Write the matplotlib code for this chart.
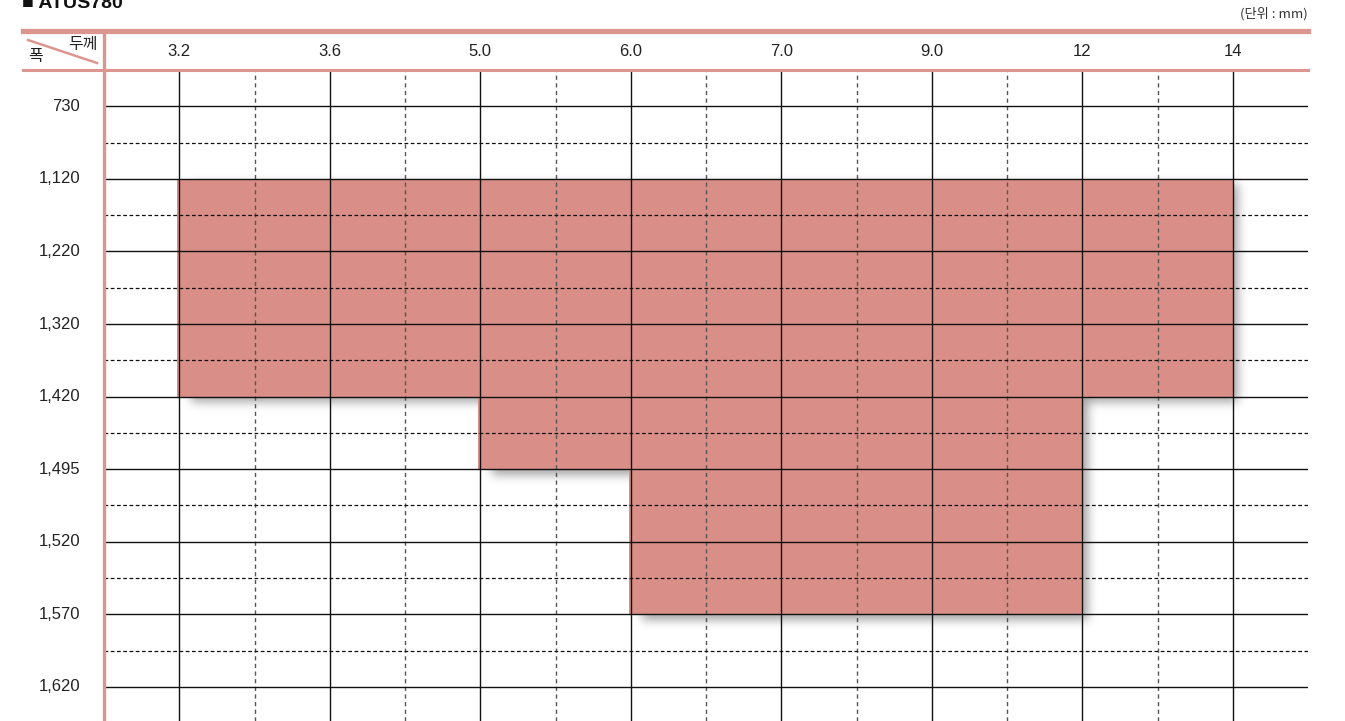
import numpy as np
import matplotlib.pyplot as plt
from matplotlib.transforms import blended_transform_factory

plt.rcParams['font.family'] = ['Noto Sans CJK KR', 'DejaVu Sans']

# 두께 (thickness) columns and 폭 (width) rows
thickness = ['3.2', '3.6', '5.0', '6.0', '7.0', '9.0', '12', '14']
width = ['730', '1,120', '1,220', '1,320', '1,420', '1,495', '1,520', '1,570', '1,620']

# available ranges: (width from, width to, thickness from, thickness to)
ranges = [
    ('1,120', '1,420', '3.2', '14'),
    ('1,420', '1,495', '5.0', '12'),
    ('1,495', '1,570', '6.0', '12'),
]

fill_color = '#d98f87'
pink = '#dc968f'
num_font = ['Liberation Sans Narrow', 'Liberation Sans', 'DejaVu Sans']

fig = plt.figure(figsize=(13.45, 7.21), dpi=100)
W, H = 1345, 721


def fx(px):
    return px / W


def fy(py):
    return 1 - py / H


# grid area
ax = fig.add_axes([fx(104), 0, fx(1308) - fx(104), fy(70)])
xlim = (-0.5, len(thickness) - 0.5)
ylim = (len(width) - 0.53, -0.5)
ax.axis('off')

# blurred drop shadow under the filled ranges
aw, ah = 1204, 651
sx = aw / (xlim[1] - xlim[0])
sy = ah / (ylim[0] - ylim[1])
mask = np.zeros((ah, aw))
off_x, off_y = 6, 6
for w0, w1, t0, t1 in ranges:
    y0, y1 = width.index(w0), width.index(w1)
    x0, x1 = thickness.index(t0), thickness.index(t1)
    c0 = int((x0 - xlim[0]) * sx) + off_x + 6
    c1 = int((x1 - xlim[0]) * sx) + off_x
    r0 = int((y0 - ylim[1]) * sy) + off_y
    r1 = int((y1 - ylim[1]) * sy) + off_y
    mask[r0:r1, c0:c1] = 1
sigma = 5.0
k = np.arange(-15, 16)
kern = np.exp(-k ** 2 / (2 * sigma ** 2))
kern /= kern.sum()
blur = np.apply_along_axis(lambda v: np.convolve(v, kern, mode='same'), 1, mask)
blur = np.apply_along_axis(lambda v: np.convolve(v, kern, mode='same'), 0, blur)
shadow = np.zeros((ah, aw, 4))
shadow[..., 3] = blur * 0.36
ax.imshow(shadow, extent=(xlim[0], xlim[1], ylim[0], ylim[1]), origin='upper',
          aspect='auto', zorder=1, interpolation='bilinear')
ax.set_xlim(*xlim)
ax.set_ylim(*ylim)

for w0, w1, t0, t1 in ranges:
    y0, y1 = width.index(w0), width.index(w1)
    x0, x1 = thickness.index(t0), thickness.index(t1)
    ax.fill_between([x0 - 0.012, x1], y0, y1, color=fill_color, lw=0, zorder=2)

# grid lines
for i in range(len(thickness)):
    ax.axvline(i, color='#111111', lw=1.0, zorder=3)
    if i < len(thickness) - 1:
        ax.axvline(i + 0.5, color='#555555', lw=1.0, ls=(0, (3, 2.5)), zorder=3)
for j in range(len(width)):
    ax.axhline(j, color='#111111', lw=1.0, zorder=3)
    if j < len(width) - 1:
        ax.axhline(j + 0.5, color='#111111', lw=0.9, ls=(0, (3, 2)), zorder=3)

# row labels
trans_y = blended_transform_factory(fig.transFigure, ax.transData)
for j, lab in enumerate(width):
    ax.text(fx(80), j, lab, transform=trans_y, ha='right', va='center',
            fontsize=12, color='#222222', family=num_font, clip_on=False)

# column labels
trans_x = blended_transform_factory(ax.transData, fig.transFigure)
for i, lab in enumerate(thickness):
    ax.text(i, fy(52), lab, transform=trans_x, ha='center', va='center',
            fontsize=12, color='#222222', family=num_font, clip_on=False)

# header lines
fig.add_artist(plt.Line2D([fx(23), fx(1308)], [fy(31), fy(31)], color=pink, lw=3.8))
fig.add_artist(plt.Line2D([fx(23), fx(1308)], [fy(70), fy(70)], color=pink, lw=2.2))
fig.add_artist(plt.Line2D([fx(104), fx(104)], [fy(31), 0], color=pink, lw=2.4))
fig.add_artist(plt.Line2D([fx(28), fx(97)], [fy(40), fy(63)], color=pink, lw=1.8))
fig.text(fx(83), fy(45), '두께', ha='center', va='center', fontsize=11.5, color='#222222')
fig.text(fx(36), fy(57), '폭', ha='center', va='center', fontsize=11.5, color='#222222')

# title and unit
fig.text(fx(22), fy(3), '■ ATUS780', ha='left', va='center', fontsize=14,
         fontweight='bold', color='#111111', family=num_font)
fig.text(fx(1308), fy(14), '(단위 : mm)', ha='right', va='center', fontsize=9.5,
         color='#333333')

fig.savefig('out.png', dpi=100)
